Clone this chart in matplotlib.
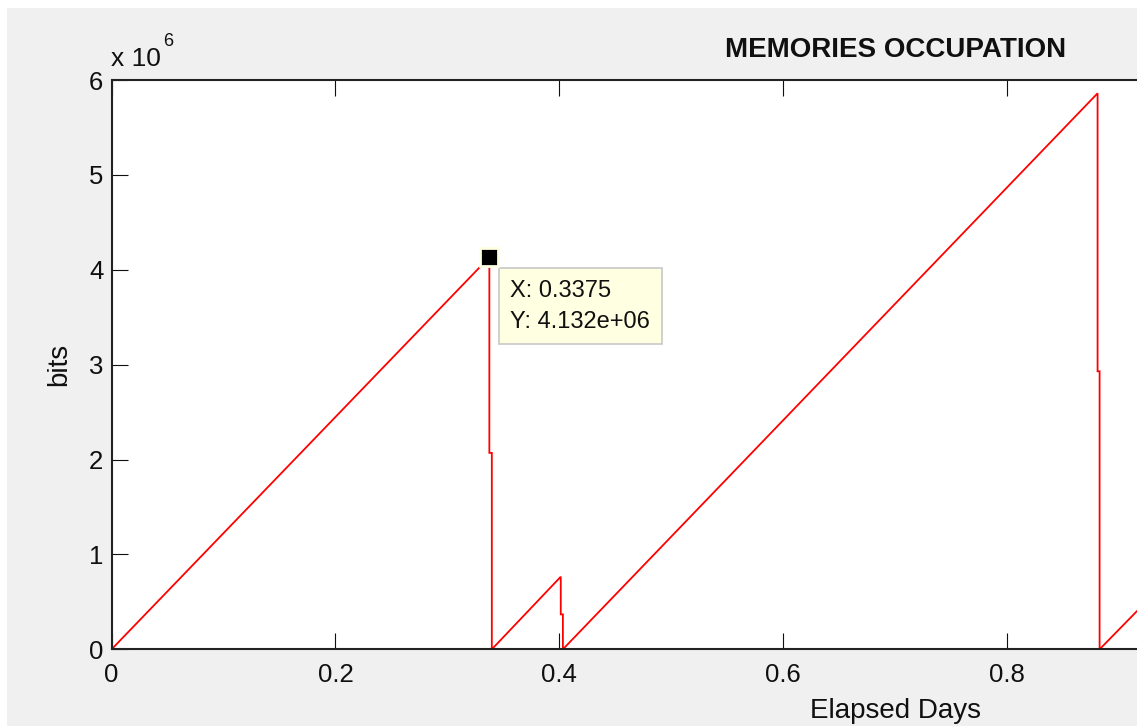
import matplotlib
matplotlib.use("Agg")
import matplotlib.pyplot as plt
from matplotlib.patches import Rectangle
from matplotlib.ticker import FuncFormatter

plt.rcParams['font.family'] = ['Liberation Sans', 'DejaVu Sans']

# Memory occupation path (elapsed days, bits): fills, then dumps
days = [0.0, 0.3375, 0.3375, 0.3397, 0.3397, 0.4013, 0.4013, 0.4032, 0.4032,
        0.8809, 0.8809, 0.8827, 0.8827, 0.9250]
bits = [0.0, 4.132e6, 2.07e6, 2.07e6, 0.0, 0.765e6, 0.368e6, 0.368e6, 0.0,
        5.86e6, 2.93e6, 2.93e6, 0.0, 0.51e6]

# Data tip
tip_x = 0.3375
tip_y = 4.132e6

x_ticks = [0.0, 0.2, 0.4, 0.6, 0.8]
y_ticks = [0, 1e6, 2e6, 3e6, 4e6, 5e6, 6e6]

W, H = 1137, 726
fig = plt.figure(figsize=(W / 100, H / 100), dpi=100, facecolor='white')
fig.patches.append(Rectangle((7 / W, 0), 1, (H - 8) / H, transform=fig.transFigure,
                             facecolor='#f0f0f0', edgecolor='none', zorder=-10))

ax = fig.add_axes([111.6 / W, (H - 649.3) / H, 1567 / W, 569.3 / H])
ax.set_facecolor('white')
ax.plot(days, bits, color='#ff0000', lw=1.3, solid_joinstyle='miter')
ax.set_xlim(0, 1.4)
ax.set_ylim(0, 6e6)
ax.set_xticks(x_ticks)
ax.set_yticks(y_ticks)
ax.xaxis.set_major_formatter(FuncFormatter(lambda v, p: '%g' % v))
ax.yaxis.set_major_formatter(FuncFormatter(lambda v, p: '%g' % (v / 1e6)))
ax.tick_params(direction='in', length=11.5, width=0.8, top=True, right=True,
               labelsize=18.5, colors='#101010', pad=6)
ax.tick_params(axis='x', pad=10)
for s in ax.spines.values():
    s.set_linewidth(1.5)
    s.set_color('#222222')

ax.set_xlabel('Elapsed Days', fontsize=20, labelpad=8, color='#101010')
ax.set_ylabel('bits', fontsize=20, labelpad=12, color='#101010')
ax.set_title('MEMORIES OCCUPATION', fontsize=20, fontweight='bold', pad=16.5, color='#101010')

# Exponent label above the y axis
fig.text(111 / W, (H - 66) / H, 'x 10', fontsize=19, color='#101010', ha='left', va='baseline')
fig.text(163 / W, (H - 46) / H, '6', fontsize=13, color='#101010', ha='left', va='baseline')

ax.plot([tip_x], [tip_y], marker='s', ms=12.5, mfc='black', mec='#ffffe1', mew=2, zorder=5,
        clip_on=False)
ax.annotate('X: %g\nY: %.3e' % (tip_x, tip_y), xy=(tip_x, tip_y), xytext=(21, -23),
            textcoords='offset pixels', ha='left', va='top', fontsize=17, linespacing=1.49,
            color='#101010',
            bbox=dict(boxstyle='square,pad=0.5', facecolor='#ffffe1', edgecolor='#c8c8c8', lw=1.2))

fig.savefig('out.png', dpi=100, facecolor=fig.get_facecolor())
